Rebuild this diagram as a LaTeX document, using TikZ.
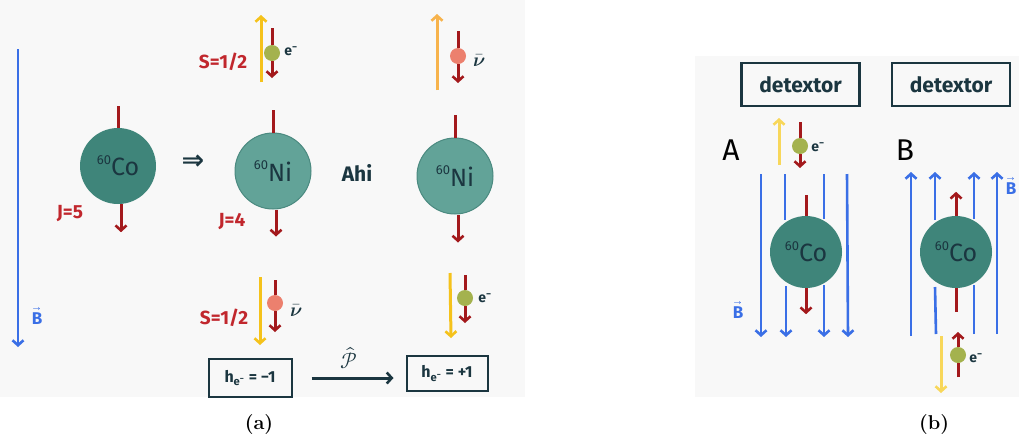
\documentclass[tikz,border=0pt]{standalone}
\usepackage{amsmath}
\usepackage{fontspec}
\usepackage{unicode-math}
\newfontfamily\hand{Fira Sans}
\newfontfamily\symb{DejaVu Sans}
\usetikzlibrary{arrows.meta}
\definecolor{bg}{HTML}{F8F8F8}
\definecolor{cobalt}{HTML}{3F857A}
\definecolor{nickel}{HTML}{62A398}
\definecolor{nickeledge}{HTML}{4B8A80}
\definecolor{spinred}{HTML}{A3191C}
\definecolor{labelred}{HTML}{C1272D}
\definecolor{ink}{HTML}{1B3640}
\definecolor{field}{HTML}{3A6FE6}
\definecolor{momyellow}{HTML}{F5C21B}
\definecolor{momlight}{HTML}{F8D75A}
\definecolor{momorange}{HTML}{F7B34C}
\definecolor{electron}{HTML}{A4B24E}
\definecolor{antinu}{HTML}{EC806E}
% mass number written as a raised prefix
\newcommand\nucl[2]{\raisebox{0.45em}{\fontsize{13}{13}\selectfont #1}#2}
\newcommand\fieldB{$\vec{\text{B}}$}
\newcommand\elec{e\textsuperscript{−}}
\newcommand\antinu{$\bar{\symbfit{\nu}}$}
\tikzset{
  barb/.style={-{Straight Barb[length=5pt,width=11pt,line width=2.6pt]}},
  cobaltnuc/.style={circle, inner sep=0pt, minimum size=#1, fill=cobalt,
    text=ink, font=\hand\fontsize{25}{25}\selectfont},
  nickelnuc/.style={circle, inner sep=0pt, minimum size=76pt, fill=nickel,
    draw=nickeledge, line width=1pt, text=ink, font=\hand\fontsize{25}{25}\selectfont},
  spinline/.style={draw=spinred, line width=3pt},
  spinarrow/.style={spinline, barb},
  momentum/.style={draw=#1, line width=3pt, barb},
  particle/.style={circle, inner sep=0pt, minimum size=16pt, fill=#1},
  fieldline/.style={draw=field, line width=2.6pt},
  fieldarrow/.style={fieldline, barb},
  redlabel/.style={text=labelred, font=\hand\bfseries\fontsize{19}{19}\selectfont},
  inklabel/.style={text=ink, font=\hand\bfseries\fontsize{14}{14}\selectfont},
  nulabel/.style={text=ink, font=\fontsize{19}{19}\selectfont},
  bluelabel/.style={text=field, font=\hand\bfseries\fontsize{17}{17}\selectfont},
  helbox/.style={draw=ink, line width=2pt, inner sep=0pt, text=ink,
    font=\hand\bfseries\fontsize{16}{16}\selectfont},
  detbox/.style={draw=ink, line width=2.4pt, inner sep=0pt, minimum width=118pt,
    minimum height=43pt, text=ink, font=\hand\bfseries\fontsize{21}{21}\selectfont},
  figcap/.style={font=\fontsize{20}{20}\selectfont\bfseries}
}
\begin{document}
\begin{tikzpicture}[x=1pt,y=-1pt]
\useasboundingbox (0,0) rectangle (1019,437);
% panel backgrounds
\fill[bg] (0,0) rectangle (525,397);
\fill[bg] (695,56) rectangle (1019,397);

% ---------- panel (a) ----------
% external field
\coordinate (btop) at (18,49);
\coordinate (bbot) at (18,347);
\draw[fieldarrow] (btop) -- (bbot);
\node[bluelabel] (blab) at (37,316) {\fieldB};

% cobalt nucleus
\node[cobaltnuc=76pt] (co) at (118,166) {\nucl{60}{Co}};
\draw[spinline] (co.north) -- ++(0,-22);
\draw[spinarrow] ([xshift=3pt]co.south) -- ++(0,28);
\node[redlabel] (j5) at (70,214) {J=5};

\node[text=ink, font=\symb\bfseries\fontsize{27}{27}\selectfont] (imp) at (193,162) {⇒};

% first nickel nucleus
\node[nickelnuc] (ni1) at (273,171) {\nucl{60}{Ni}};
\draw[spinline] (ni1.north) -- ++(0,-23);
\draw[spinarrow] ([xshift=3pt]ni1.south) -- ++(0,27);
\node[redlabel] (j4) at (232,222) {J=4};

\node[text=ink, font=\hand\bfseries\fontsize{21}{21}\selectfont] (ahi) at (357,173) {Ahi};

% second nickel nucleus
\node[nickelnuc] (ni2) at (455,176) {\nucl{60}{Ni}};
\draw[spinline] (ni2.north) -- ++(0,-23);
\draw[spinarrow] ([xshift=3pt]ni2.south) -- ++(0,28);

% upper electron
\coordinate (ua0) at (261,82);
\coordinate (ua1) at (261,15);
\draw[momentum=momyellow] (ua0) -- (ua1);
\node[particle=electron] (ue) at (272,53) {};
\coordinate (ue0) at (272,28);
\coordinate (ue1) at (272,78);
\draw[spinline] (ue0) -- (ue.north);
\draw[spinarrow] (ue.south) -- (ue1);
\node[inklabel] (uel) at (291,51) {\elec};
\node[redlabel] (us) at (223,62) {S=1/2};

% upper antineutrino
\coordinate (ub0) at (437,90);
\coordinate (ub1) at (437,14);
\draw[momentum=momorange] (ub0) -- (ub1);
\node[particle=antinu] (un) at (458,56) {};
\coordinate (un0) at (458,31);
\coordinate (un1) at (458,83);
\draw[spinline] (un0) -- (un.north);
\draw[spinarrow] (un.south) -- (un1);
\node[nulabel] (unl) at (479,60) {\antinu};

% lower antineutrino
\coordinate (la0) at (260,277);
\coordinate (la1) at (260,345);
\draw[momentum=momyellow] (la0) -- (la1);
\node[particle=antinu] (ln) at (275,303) {};
\coordinate (ln0) at (275,280);
\coordinate (ln1) at (275,332);
\draw[spinline] (ln0) -- (ln.north);
\draw[spinarrow] (ln.south) -- (ln1);
\node[nulabel] (lnl) at (296,310) {\antinu};
\node[redlabel] (ls) at (224,318) {S=1/2};

% lower electron
\coordinate (lb0) at (450,273);
\coordinate (lb1) at (451,338);
\draw[momentum=momyellow] (lb0) -- (lb1);
\node[particle=electron] (le) at (465,298) {};
\coordinate (le0) at (465,275);
\coordinate (le1) at (465,323);
\draw[spinline] (le0) -- (le.north);
\draw[spinarrow] (le.south) -- (le1);
\node[inklabel] (lel) at (485,298) {\elec};

% helicities and parity
\node[helbox, minimum width=83pt, minimum height=38pt] (h1) at (250,378) {h\textsubscript{\elec} = −1};
\node[helbox, minimum width=81pt, minimum height=35pt] (h2) at (447,373.5) {h\textsubscript{\elec} = +1};
\draw[draw=ink, line width=3pt, barb, shorten <=19pt, shorten >=12pt]
  (h1.east) -- (h1.east -| h2.west)
  node[midway, above=4pt, text=ink, font=\fontsize{22}{22}\selectfont] (par) {$\hat{\mathcal{P}}$};

\node[figcap] (capa) at (259,424) {(a)};

% ---------- panel (b) ----------
\node[detbox] (deta) at (800.5,84.5) {detextor};
\node[detbox] (detb) at (951,84.5) {detextor};
\node[font=\hand\fontsize{30}{30}\selectfont] (la) at (731,150) {A};
\node[font=\hand\fontsize{30}{30}\selectfont] (lb) at (905,150) {B};

% setup A: field pointing down
\node[cobaltnuc=72pt] (coa) at (806,252) {\nucl{60}{Co}};
\draw[spinline] (coa.north) -- ++(0,-21);
\draw[spinarrow] (coa.south) -- ++(0,26);
\draw[fieldarrow] (761,174) -- (761,337);
\draw[fieldarrow] (847,174) -- (848,337);
\draw[fieldline] (785,174) -- (785,220);
\draw[fieldarrow] (786,286) -- (786,337);
\draw[fieldline] (824,174) -- (824,219);
\draw[fieldarrow] (824,285) -- (824,337);
\node[bluelabel] (bla) at (738,310) {\fieldB};

\coordinate (aa0) at (779,165);
\coordinate (aa1) at (779,118);
\draw[momentum=momlight] (aa0) -- (aa1);
\node[particle=electron] (ae) at (800,146) {};
\coordinate (ae0) at (800,122);
\coordinate (ae1) at (800,168);
\draw[spinline] (ae0) -- (ae.north);
\draw[spinarrow] (ae.south) -- (ae1);
\node[inklabel] (ael) at (818,147) {\elec};

% setup B: field pointing up
\node[cobaltnuc=72pt] (cob) at (956,252) {\nucl{60}{Co}};
\draw[spinarrow] (cob.north) -- ++(0,-24);
\draw[spinline] (cob.south) -- ++(0,24);
\draw[fieldarrow] (911,336) -- (911,172);
\draw[fieldarrow] (997,334) -- (997,172);
\draw[fieldline] (936,334) -- (935,287);
\draw[fieldarrow] (935,220) -- (935,172);
\draw[fieldline] (974,334) -- (974,285);
\draw[fieldarrow] (974,219) -- (974,172);
\node[bluelabel] (blb) at (1011,186) {\fieldB};

\coordinate (ba0) at (941,336);
\coordinate (ba1) at (941,393);
\draw[momentum=momlight] (ba0) -- (ba1);
\node[particle=electron] (be) at (958,355) {};
\coordinate (be0) at (958,377);
\coordinate (be1) at (958,332);
\draw[spinline] (be0) -- (be.south);
\draw[spinarrow] (be.north) -- (be1);
\node[inklabel] (bel) at (976,358) {\elec};

\node[figcap] (capb) at (934,424) {(b)};
\end{tikzpicture}
\end{document}
